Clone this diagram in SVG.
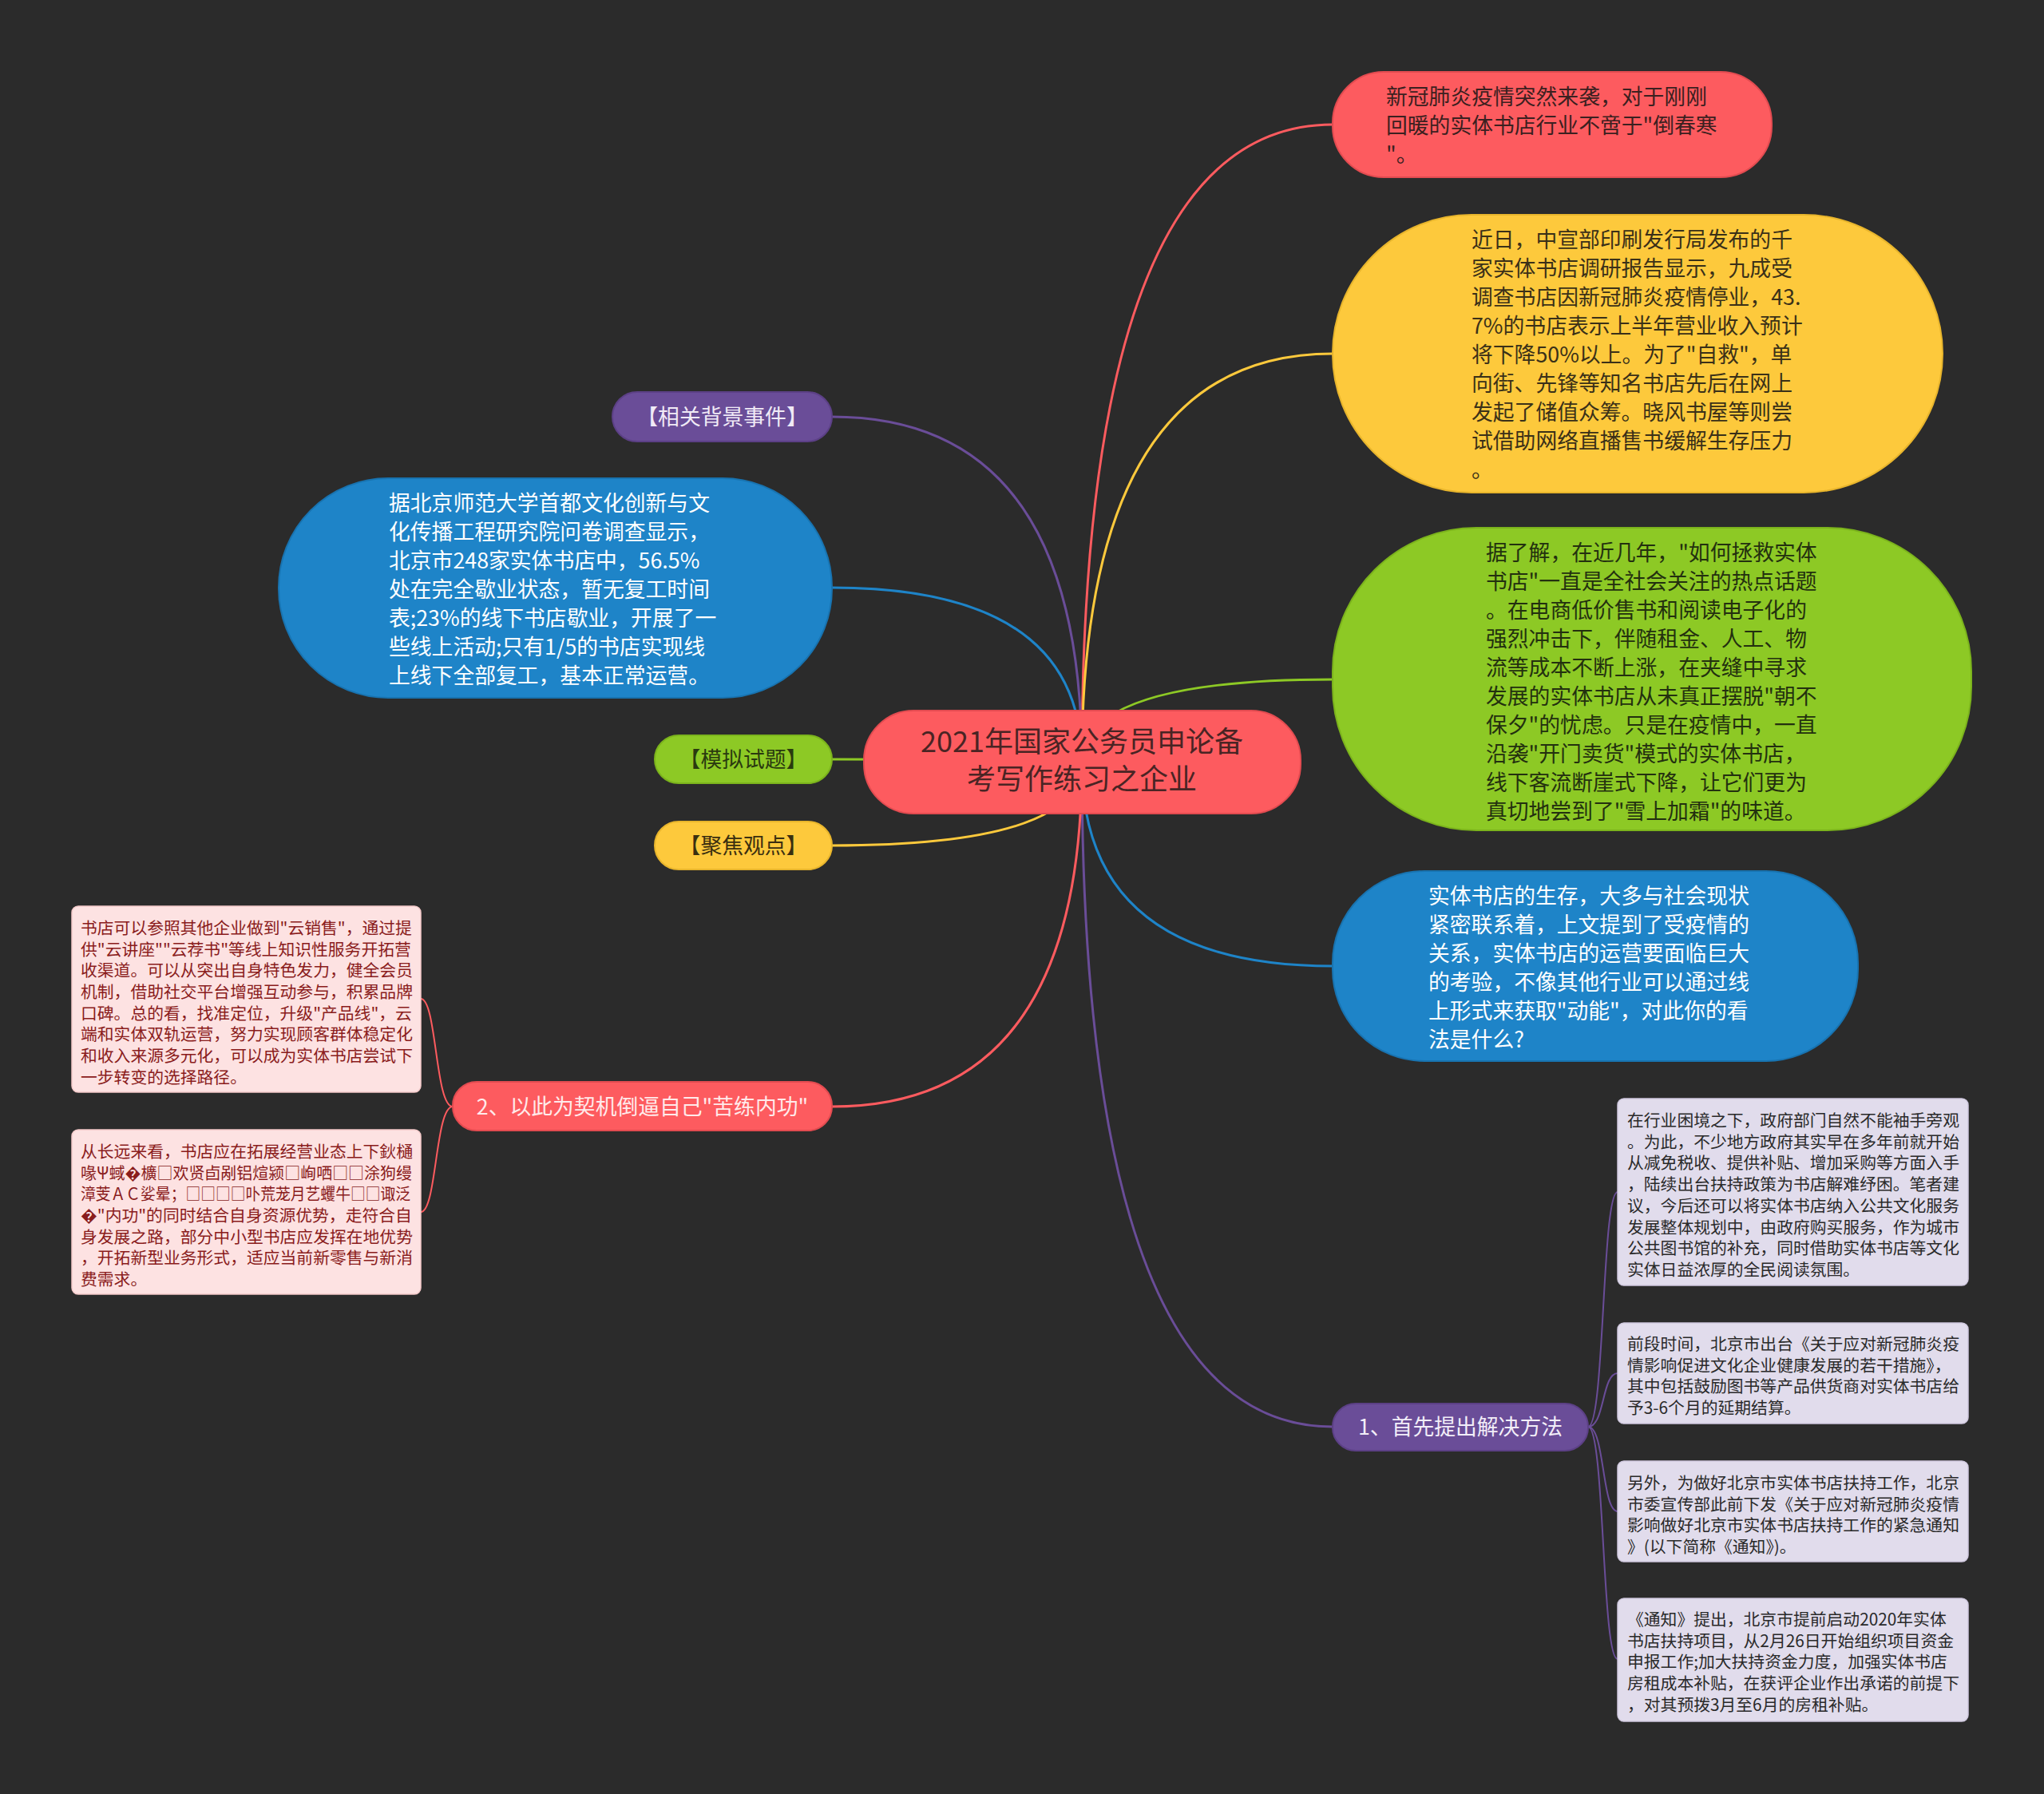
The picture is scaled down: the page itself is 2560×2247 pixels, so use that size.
<svg xmlns="http://www.w3.org/2000/svg" width="2560" height="2247" viewBox="0 0 2560 2247">
<style>
text{font-family:"Noto Sans CJK SC","Noto Sans",sans-serif;}
.big{font-size:26.8px;}
.tag{font-size:26.8px;text-anchor:middle;}
.ctr{font-size:36px;text-anchor:middle;fill:#4a2424;}
.sm{font-size:20.8px;}
.line{fill:none;stroke-width:3;stroke-linecap:round;}
.sub{fill:none;stroke-width:2;stroke-linecap:round;}
.red{fill:#fd5b5f;stroke:#e24b50;stroke-width:2;}
.yel{fill:#fdc93c;stroke:#e8b52c;stroke-width:2;}
.grn{fill:#8dc925;stroke:#7bb31c;stroke-width:2;}
.blu{fill:#1e84c8;stroke:#1873b0;stroke-width:2;}
.pur{fill:#6a4d98;stroke:#5c4086;stroke-width:2;}
.pink{fill:#fde2e2;stroke:#f3c9c9;stroke-width:1.5;}
.lav{fill:#e1dcec;stroke:#cfc8de;stroke-width:1.5;}
.tpink{fill:#8a1c1c;}
.tlav{fill:#2a2a2a;}
</style>
<rect width="2560" height="2247" fill="#2b2b2b"/>
<g id="connectors">
<path class="line" stroke="#fd5b5f" d="M1355 955 Q1355 156 1669 156"/>
<path class="line" stroke="#fdc93c" d="M1355 955 Q1355 443 1669 443"/>
<path class="line" stroke="#8dc925" d="M1355 955 Q1355 851 1669 851"/>
<path class="line" stroke="#1e84c8" d="M1355 955 Q1355 1210 1669 1210"/>
<path class="line" stroke="#6a4d98" d="M1355 955 Q1355 1787 1669 1787"/>
<path class="line" stroke="#6a4d98" d="M1355 955 Q1355 522 1042 522"/>
<path class="line" stroke="#1e84c8" d="M1355 955 Q1355 736 1042 736"/>
<path class="line" stroke="#8dc925" d="M1355 955 Q1355 951 1042 951"/>
<path class="line" stroke="#fdc93c" d="M1355 955 Q1355 1059 1042 1059"/>
<path class="line" stroke="#fd5b5f" d="M1355 955 Q1355 1386 1042 1386"/>
<path class="sub" stroke="#fd5b5f" d="M567 1386 C545 1386 547 1251 527 1251"/>
<path class="sub" stroke="#fd5b5f" d="M567 1386 C545 1386 547 1518 527 1518"/>
<path class="sub" stroke="#6a4d98" d="M1989 1787 C2010 1787 2006 1493 2026 1493"/>
<path class="sub" stroke="#6a4d98" d="M1989 1787 C2010 1787 2006 1720 2026 1720"/>
<path class="sub" stroke="#6a4d98" d="M1989 1787 C2010 1787 2006 1893 2026 1893"/>
<path class="sub" stroke="#6a4d98" d="M1989 1787 C2010 1787 2006 2078 2026 2078"/>
</g>
<g id="center">
<rect class="red" x="1082" y="890" width="547" height="129" rx="62"/>
<text class="ctr" x="1355" y="942">2021年国家公务员申论备</text>
<text class="ctr" x="1355" y="989">考写作练习之企业</text>
</g>
<g id="n-red-top">
<rect class="red" x="1669" y="90" width="550" height="132" rx="64"/>
<text class="big" fill="#3b2020"><tspan x="1736" y="131">新冠肺炎疫情突然来袭，对于刚刚</tspan><tspan x="1736" y="167">回暖的实体书店行业不啻于"倒春寒</tspan><tspan x="1736" y="203">"。</tspan></text>
</g>
<g id="n-yellow">
<rect class="yel" x="1669" y="269" width="764" height="348" rx="174"/>
<text class="big" fill="#3a3018"><tspan x="1843" y="310">近日，中宣部印刷发行局发布的千</tspan><tspan x="1843" y="346">家实体书店调研报告显示，九成受</tspan><tspan x="1843" y="382">调查书店因新冠肺炎疫情停业，43.</tspan><tspan x="1843" y="418">7%的书店表示上半年营业收入预计</tspan><tspan x="1843" y="454">将下降50%以上。为了"自救"，单</tspan><tspan x="1843" y="490">向街、先锋等知名书店先后在网上</tspan><tspan x="1843" y="526">发起了储值众筹。晓风书屋等则尝</tspan><tspan x="1843" y="562">试借助网络直播售书缓解生存压力</tspan><tspan x="1843" y="598">。</tspan></text>
</g>
<g id="n-green">
<rect class="grn" x="1669" y="661" width="800" height="379" rx="180"/>
<text class="big" fill="#23300f"><tspan x="1861" y="702">据了解，在近几年，"如何拯救实体</tspan><tspan x="1861" y="738">书店"一直是全社会关注的热点话题</tspan><tspan x="1861" y="774">。在电商低价售书和阅读电子化的</tspan><tspan x="1861" y="810">强烈冲击下，伴随租金、人工、物</tspan><tspan x="1861" y="846">流等成本不断上涨，在夹缝中寻求</tspan><tspan x="1861" y="882">发展的实体书店从未真正摆脱"朝不</tspan><tspan x="1861" y="918">保夕"的忧虑。只是在疫情中，一直</tspan><tspan x="1861" y="954">沿袭"开门卖货"模式的实体书店，</tspan><tspan x="1861" y="990">线下客流断崖式下降，让它们更为</tspan><tspan x="1861" y="1026">真切地尝到了"雪上加霜"的味道。</tspan></text>
</g>
<g id="n-blue-right">
<rect class="blu" x="1669" y="1091" width="658" height="238" rx="115"/>
<text class="big" fill="#ffffff"><tspan x="1789" y="1132">实体书店的生存，大多与社会现状</tspan><tspan x="1789" y="1168">紧密联系着，上文提到了受疫情的</tspan><tspan x="1789" y="1204">关系，实体书店的运营要面临巨大</tspan><tspan x="1789" y="1240">的考验，不像其他行业可以通过线</tspan><tspan x="1789" y="1276">上形式来获取"动能"，对此你的看</tspan><tspan x="1789" y="1312">法是什么?</tspan></text>
</g>
<g id="n-solution">
<rect class="pur" x="1669" y="1758" width="320" height="59" rx="29"/>
<text class="tag" fill="#f2eef8" x="1829" y="1797">1、首先提出解决方法</text>
</g>
<g id="n-background">
<rect class="pur" x="767" y="491" width="275" height="62" rx="31"/>
<text class="tag" fill="#f0eaf6" x="904.5" y="532">【相关背景事件】</text>
</g>
<g id="n-blue-left">
<rect class="blu" x="349" y="599" width="693" height="275" rx="137"/>
<text class="big" fill="#ffffff"><tspan x="487" y="640">据北京师范大学首都文化创新与文</tspan><tspan x="487" y="676">化传播工程研究院问卷调查显示，</tspan><tspan x="487" y="712">北京市248家实体书店中，56.5%</tspan><tspan x="487" y="748">处在完全歇业状态，暂无复工时间</tspan><tspan x="487" y="784">表;23%的线下书店歇业，开展了一</tspan><tspan x="487" y="820">些线上活动;只有1/5的书店实现线</tspan><tspan x="487" y="856">上线下全部复工，基本正常运营。</tspan></text>
</g>
<g id="n-mock">
<rect class="grn" x="820" y="921" width="222" height="60" rx="30"/>
<text class="tag" fill="#2a3a0f" x="931" y="961">【模拟试题】</text>
</g>
<g id="n-focus">
<rect class="yel" x="820" y="1029" width="222" height="60" rx="30"/>
<text class="tag" fill="#3a2f10" x="931" y="1069">【聚焦观点】</text>
</g>
<g id="n-practice">
<rect class="red" x="567" y="1355" width="475" height="61" rx="30"/>
<text class="tag" fill="#ffeaea" x="804.5" y="1396">2、以此为契机倒逼自己"苦练内功"</text>
</g>
<g id="n-box1">
<rect class="pink" x="90" y="1135" width="437" height="233" rx="8"/>
<text class="sm tpink"><tspan x="101" y="1170">书店可以参照其他企业做到"云销售"，通过提</tspan><tspan x="101" y="1196.7">供"云讲座""云荐书"等线上知识性服务开拓营</tspan><tspan x="101" y="1223.3">收渠道。可以从突出自身特色发力，健全会员</tspan><tspan x="101" y="1250">机制，借助社交平台增强互动参与，积累品牌</tspan><tspan x="101" y="1276.6">口碑。总的看，找准定位，升级"产品线"，云</tspan><tspan x="101" y="1303.3">端和实体双轨运营，努力实现顾客群体稳定化</tspan><tspan x="101" y="1330">和收入来源多元化，可以成为实体书店尝试下</tspan><tspan x="101" y="1356.6">一步转变的选择路径。</tspan></text>
</g>
<g id="n-box2">
<rect class="pink" x="90" y="1415" width="437" height="206" rx="8"/>
<text class="sm tpink" x="101" y="1450">从长远来看，书店应在拓展经营业态上下鈥樋</text>
<text class="sm tpink" x="101" y="1476.7" textLength="415" lengthAdjust="spacingAndGlyphs">喙Ψ蜮�櫎□欢贤卣剐铝煊颍□峋哂□□涂狗缦</text>
<text class="sm tpink" x="101" y="1503.3" textLength="413" lengthAdjust="spacingAndGlyphs">漳芰ＡＣ娑晕；□□□□卟荒茏月艺蠼牛□□诹泛</text>
<text class="sm tpink"><tspan x="101" y="1530">�"内功"的同时结合自身资源优势，走符合自</tspan><tspan x="101" y="1556.6">身发展之路，部分中小型书店应发挥在地优势</tspan><tspan x="101" y="1583.3">，开拓新型业务形式，适应当前新零售与新消</tspan><tspan x="101" y="1610">费需求。</tspan></text>
</g>
<g id="n-boxA">
<rect class="lav" x="2026" y="1376" width="439" height="234" rx="8"/>
<text class="sm tlav"><tspan x="2038" y="1411">在行业困境之下，政府部门自然不能袖手旁观</tspan><tspan x="2038" y="1437.7">。为此，不少地方政府其实早在多年前就开始</tspan><tspan x="2038" y="1464.4">从减免税收、提供补贴、增加采购等方面入手</tspan><tspan x="2038" y="1491.1">，陆续出台扶持政策为书店解难纾困。笔者建</tspan><tspan x="2038" y="1517.8">议，今后还可以将实体书店纳入公共文化服务</tspan><tspan x="2038" y="1544.5">发展整体规划中，由政府购买服务，作为城市</tspan><tspan x="2038" y="1571.2">公共图书馆的补充，同时借助实体书店等文化</tspan><tspan x="2038" y="1597.9">实体日益浓厚的全民阅读氛围。</tspan></text>
</g>
<g id="n-boxB">
<rect class="lav" x="2026" y="1657" width="439" height="126" rx="8"/>
<text class="sm tlav"><tspan x="2038" y="1691">前段时间，北京市出台《关于应对新冠肺炎疫</tspan><tspan x="2038" y="1717.7">情影响促进文化企业健康发展的若干措施》，</tspan><tspan x="2038" y="1744.4">其中包括鼓励图书等产品供货商对实体书店给</tspan><tspan x="2038" y="1771.1">予3-6个月的延期结算。</tspan></text>
</g>
<g id="n-boxC">
<rect class="lav" x="2026" y="1830" width="439" height="126" rx="8"/>
<text class="sm tlav"><tspan x="2038" y="1865">另外，为做好北京市实体书店扶持工作，北京</tspan><tspan x="2038" y="1891.7">市委宣传部此前下发《关于应对新冠肺炎疫情</tspan><tspan x="2038" y="1918.4">影响做好北京市实体书店扶持工作的紧急通知</tspan><tspan x="2038" y="1945.1">》(以下简称《通知》)。</tspan></text>
</g>
<g id="n-boxD">
<rect class="lav" x="2026" y="2002" width="439" height="154" rx="8"/>
<text class="sm tlav"><tspan x="2038" y="2036">《通知》提出，北京市提前启动2020年实体</tspan><tspan x="2038" y="2062.7">书店扶持项目，从2月26日开始组织项目资金</tspan><tspan x="2038" y="2089.4">申报工作;加大扶持资金力度，加强实体书店</tspan><tspan x="2038" y="2116.1">房租成本补贴，在获评企业作出承诺的前提下</tspan><tspan x="2038" y="2142.8">，对其预拨3月至6月的房租补贴。</tspan></text>
</g>
</svg>
